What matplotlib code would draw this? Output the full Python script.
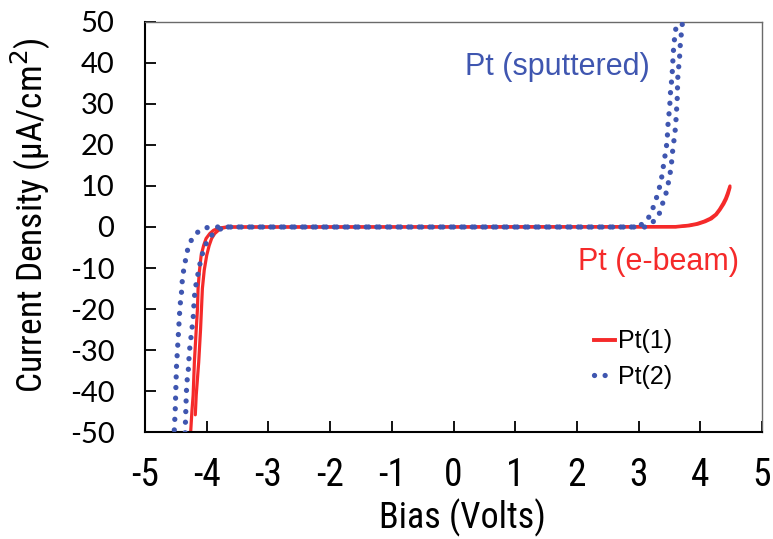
import matplotlib
matplotlib.use("Agg")
import matplotlib.pyplot as plt
from matplotlib import font_manager
from matplotlib.lines import Line2D

# --- I-V sweeps, bias in volts, current density in uA/cm^2 ---
# Pt(1), e-beam: two sweeps
pt1a_v = [-4.26, -4.24, -4.22, -4.20, -4.17, -4.15, -4.14, -4.12, -4.09, -4.05, -4.01,
          -3.95, -3.89, -3.80, -3.70, -3.60, 3.60, 3.80, 3.94, 4.06, 4.16, 4.25, 4.31,
          4.37, 4.41, 4.44, 4.48]
pt1a_j = [-50.0, -45.0, -41.0, -33.0, -25.0, -20.0, -15.0, -11.0, -6.9, -4.5, -2.8,
          -1.6, -0.8, -0.25, -0.05, 0.0, 0.1, 0.4, 0.8, 1.4, 2.1, 3.1, 4.3,
          5.8, 7.0, 8.2, 10.0]
pt1b_v = [-4.185, -4.17, -4.13, -4.10, -4.085, -4.07, -4.04, -4.00, -3.96, -3.92, -3.87,
          -3.81, -3.74, -3.66, -3.50, 3.60, 3.82, 3.96, 4.08, 4.18, 4.26, 4.32, 4.38,
          4.42, 4.45, 4.48]
pt1b_j = [-45.8, -41.0, -33.0, -25.0, -20.0, -15.0, -10.5, -6.9, -4.5, -2.8, -1.6,
          -0.8, -0.25, 0.0, 0.0, 0.0, 0.3, 0.7, 1.3, 2.0, 3.0, 4.2, 5.6,
          6.8, 8.0, 9.6]

# Pt(2), sputtered: two sweeps
pt2a_v = [-4.525, -4.51, -4.50, -4.49, -4.47, -4.44, -4.43, -4.41, -4.40, -4.38, -4.35,
          -4.32, -4.27, -4.17, -4.03, -3.87, 2.90, 3.01, 3.14, 3.21, 3.27, 3.32, 3.36,
          3.39, 3.41, 3.44, 3.46, 3.47, 3.48, 3.50, 3.51, 3.52, 3.54, 3.55, 3.56,
          3.57, 3.59, 3.61, 3.62]
pt2a_j = [-49.5, -44.5, -39.3, -34.1, -28.9, -21.1, -18.9, -16.3, -13.7, -11.1, -8.6,
          -6.1, -3.7, -1.5, -0.2, 0.0, 0.0, 0.2, 1.7, 3.7, 6.2, 8.6, 11.0,
          13.5, 15.9, 18.4, 20.8, 23.2, 26.1, 28.5, 31.0, 33.8, 36.3, 39.1, 41.9,
          44.4, 46.8, 49.3, 52.0]
pt2b_v = [-4.35, -4.34, -4.33, -4.32, -4.30, -4.29, -4.28, -4.26, -4.24, -4.22, -4.20,
          -4.18, -4.15, -4.12, -4.08, -4.03, -3.95, -3.81, -3.70, 3.10, 3.18, 3.32,
          3.37, 3.43, 3.47, 3.50, 3.53, 3.54, 3.56, 3.58, 3.60, 3.61, 3.62, 3.63,
          3.63, 3.64, 3.66, 3.67, 3.68, 3.70, 3.72]
pt2b_j = [-50.2, -45.4, -40.4, -37.7, -35.3, -32.7, -30.2, -27.6, -24.9, -22.3, -17.1,
          -14.6, -12.1, -9.7, -7.0, -4.6, -2.4, -0.7, 0.0, 0.0, 0.5, 2.5,
          5.0, 7.4, 9.8, 12.3, 14.7, 17.1, 19.6, 22.0, 24.6, 27.3, 29.8, 32.6,
          35.0, 37.9, 40.3, 43.2, 45.6, 48.0, 52.0]

x_ticks = [-5, -4, -3, -2, -1, 0, 1, 2, 3, 4, 5]
y_ticks = [-50, -40, -30, -20, -10, 0, 10, 20, 30, 40, 50]

RED = "#f52a2a"
BLUE = "#3f56b0"

# pick a condensed sans for the axis text if one is around
installed = {f.name for f in font_manager.fontManager.ttflist}
NARROW = "Liberation Sans"
for cand in ["Liberation Sans Narrow", "Arial Narrow", "Roboto Condensed",
             "Open Sans Condensed", "DejaVu Sans Condensed"]:
    if cand in installed:
        NARROW = cand
        break

fig = plt.figure(figsize=(7.73, 5.39), dpi=100)
ax = fig.add_axes([0.1876, 0.1985, 0.7982, 0.7607])

for v, j in [(pt1a_v, pt1a_j), (pt1b_v, pt1b_j)]:
    ax.plot(v, j, color=RED, lw=2.3, solid_capstyle="round", zorder=2)

for v, j in [(pt2a_v, pt2a_j), (pt2b_v, pt2b_j)]:
    ax.plot(v, j, color=BLUE, lw=3.8, dashes=(0.01, 2.0),
            dash_capstyle="round", zorder=3)

ax.set_xlim(-5, 5)
ax.set_ylim(-50, 50)
ax.set_xticks(x_ticks)
ax.set_yticks(y_ticks)
ax.set_xticklabels([str(t) for t in x_ticks], family=NARROW, fontsize=27)
ax.set_yticklabels([str(t) for t in y_ticks], family="Lato", fontsize=21)
ax.tick_params(axis="x", direction="in", length=8, width=1.3, pad=18)
ax.tick_params(axis="y", direction="in", length=8, width=1.3, pad=22)

ax.set_xlabel("Bias (Volts)", family=NARROW, fontsize=26, labelpad=3)
ax.xaxis.label.set_x(0.514)
ax.set_ylabel("Current Density (\u00b5A/cm$^2$)", family=NARROW, fontsize=25.5)
ax.yaxis.set_label_coords(-0.150, 0.530)

for side in ("left", "bottom"):
    ax.spines[side].set_linewidth(1.5)
    ax.spines[side].set_color("black")
for side in ("top", "right"):
    ax.spines[side].set_linewidth(1.0)
    ax.spines[side].set_color("#6a6a6a")

ax.text(0.19, 39, "Pt (sputtered)", color=BLUE, fontsize=22,
        family="Liberation Sans", va="center", ha="left")
ax.text(2.02, -8.5, "Pt (e-beam)", color=RED, fontsize=22,
        family="Liberation Sans", va="center", ha="left")

handles = [Line2D([], [], color=RED, lw=2.8),
           Line2D([], [], color=BLUE, lw=3.8, dashes=(0.01, 2.0),
                  dash_capstyle="round")]
ax.legend(handles, ["Pt(1)", "Pt(2)"], loc="upper left",
          bbox_to_anchor=(0.691, 0.305), frameon=False,
          prop={"family": "Liberation Sans", "size": 18},
          handlelength=0.85, handletextpad=0.1, labelspacing=0.45)

fig.savefig("out.png", dpi=100)
